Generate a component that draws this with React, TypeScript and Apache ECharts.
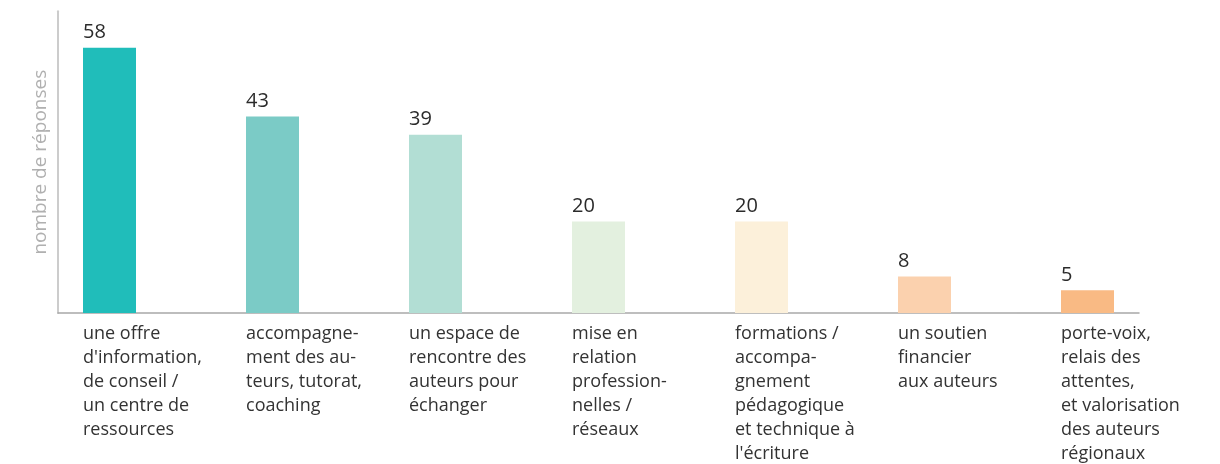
import React, { useEffect, useRef } from "react";
import * as echarts from "echarts";

const categories: string[] = [
  "une offre\nd'information,\nde conseil /\nun centre de\nressources",
  "accompagne-\nment des au-\nteurs, tutorat,\ncoaching",
  "un espace de\nrencontre des\nauteurs pour\néchanger",
  "mise en\nrelation\nprofession-\nnelles /\nréseaux",
  "formations /\naccompa-\ngnement\npédagogique\net technique à\nl'écriture",
  "un soutien\nfinancier\naux auteurs",
  "porte-voix,\nrelais des\nattentes,\net valorisation\ndes auteurs\nrégionaux",
];
const values: number[] = [58, 43, 39, 20, 20, 8, 5];
const colors: string[] = ["#20bdba", "#7bcbc6", "#b2ded4", "#e3f0df", "#fcf0da", "#fbd1ae", "#f9ba84"];
const yAxisName = "nombre de réponses";

const FONT = "'Open Sans', sans-serif";
const HALF_BAR = 26.5 / 163;

export default function App() {
  const ref = useRef<HTMLDivElement>(null);
  useEffect(() => {
    if (!ref.current) return;
    const chart = echarts.init(ref.current, undefined, { renderer: "svg" });
    chart.setOption({
      animation: false,
      grid: { left: 58, right: 81, top: 11.3, bottom: 150.7 },
      xAxis: {
        type: "value",
        min: -0.316,
        max: 6.316,
        splitLine: { show: false },
        axisTick: { show: false },
        axisLine: { show: true, onZero: false, lineStyle: { color: "#a8a8a8", width: 1.5 } },
        axisLabel: {
          customValues: categories.map((_, i) => i - HALF_BAR),
          formatter: (v: number) => categories[Math.round(v + HALF_BAR)] ?? "",
          align: "left",
          verticalAlign: "top",
          margin: 7,
          fontFamily: FONT,
          fontSize: 18,
          fontWeight: 500,
          lineHeight: 24,
          color: "#333333",
        },
      },
      yAxis: {
        type: "value",
        min: 0,
        max: 66,
        name: yAxisName,
        nameLocation: "middle",
        nameGap: 10,
        nameTextStyle: { fontFamily: FONT, fontSize: 19, color: "#b0b0b0" },
        splitLine: { show: false },
        axisTick: { show: false },
        axisLabel: { show: false },
        axisLine: { show: true, onZero: false, lineStyle: { color: "#cccccc", width: 2 } },
      },
      series: [
        {
          type: "bar",
          barWidth: 53,
          data: values.map((v, i) => ({ value: [i, v], itemStyle: { color: colors[i] } })),
          label: {
            show: true,
            position: [0, -7],
            align: "left",
            verticalAlign: "bottom",
            formatter: (p: any) => String(p.value[1]),
            fontFamily: FONT,
            fontSize: 20,
            fontWeight: 500,
            color: "#2b2b2b",
          },
        },
      ],
    });
    return () => chart.dispose();
  }, []);
  return <div ref={ref} style={{ position: "fixed", left: 0, top: 0, width: 1220, height: 464 }} />;
}
